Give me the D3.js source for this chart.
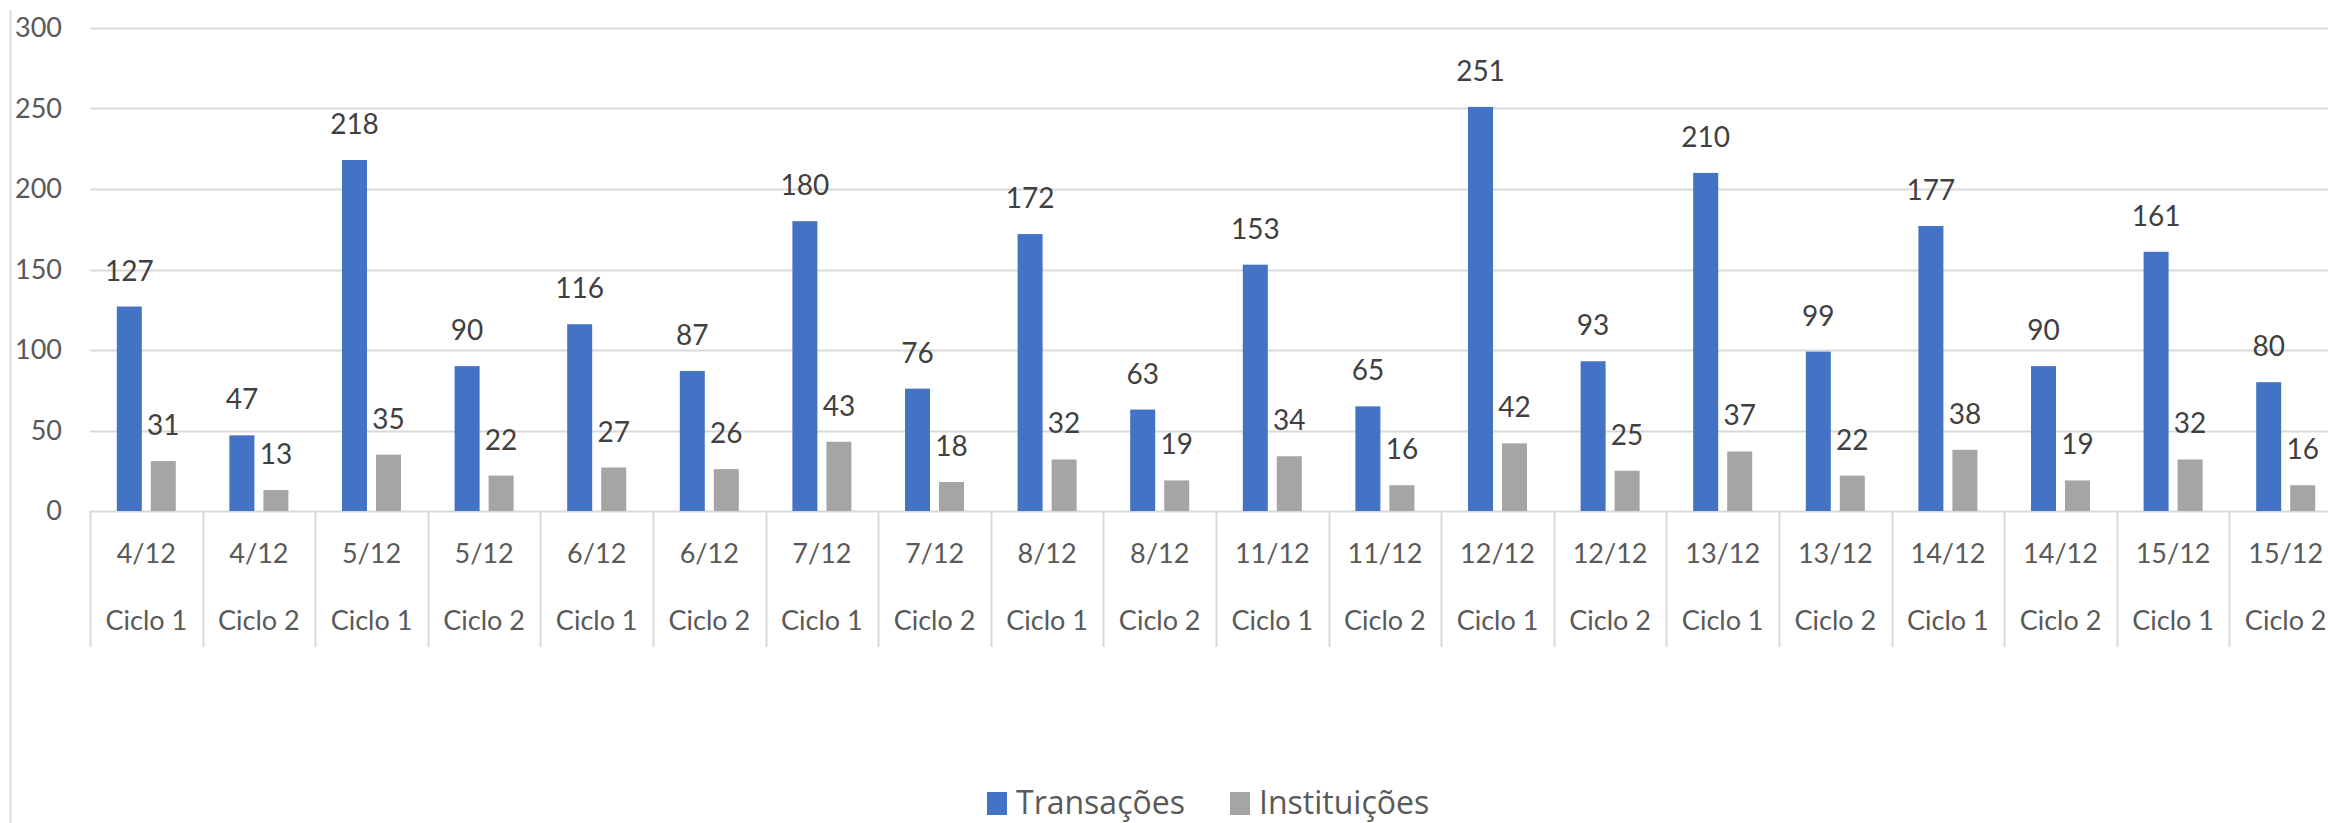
<!DOCTYPE html>
<html>
<head>
<meta charset="utf-8">
<script src="https://cdn.jsdelivr.net/npm/d3@7"></script>
<style>
  body { margin: 0; background: #fff; }
  svg { display: block; font-family: Lato, "Open Sans", sans-serif; }
</style>
</head>
<body>
<svg id="chart" width="2328" height="823"></svg>
<script>
"use strict"

const dates = ["4/12", "4/12", "5/12", "5/12", "6/12", "6/12", "7/12", "7/12", "8/12", "8/12",
    "11/12", "11/12", "12/12", "12/12", "13/12", "13/12", "14/12", "14/12", "15/12", "15/12"]
const cycles = ["Ciclo 1", "Ciclo 2", "Ciclo 1", "Ciclo 2", "Ciclo 1", "Ciclo 2", "Ciclo 1", "Ciclo 2", "Ciclo 1", "Ciclo 2",
    "Ciclo 1", "Ciclo 2", "Ciclo 1", "Ciclo 2", "Ciclo 1", "Ciclo 2", "Ciclo 1", "Ciclo 2", "Ciclo 1", "Ciclo 2"]
const transacoes = [127, 47, 218, 90, 116, 87, 180, 76, 172, 63, 153, 65, 251, 93, 210, 99, 177, 90, 161, 80]
const instituicoes = [31, 13, 35, 22, 27, 26, 43, 18, 32, 19, 34, 16, 42, 25, 37, 22, 38, 19, 32, 16]
const seriesNames = ["Transações", "Instituições"]
const yTicks = [0, 50, 100, 150, 200, 250, 300]

const colors = { "Transações": "#4472C4", "Instituições": "#A5A5A5" }
const gridColor = "#d9d9d9"
const textColor = "#595959"

const svg = d3.select("#chart")
const margin = { left: 90, top: 28, bottom: 511 }
const plotRight = 2342

const x = d3.scaleBand()
    .domain(d3.range(dates.length))
    .range([margin.left, plotRight])
    .padding(0)

const inner = d3.scaleBand()
    .domain(seriesNames)
    .range([-29.5, 29.5])
    .paddingInner(0.265)

const y = d3.scaleLinear()
    .domain([0, 300])
    .range([margin.bottom, margin.top])

// frame line on the left
svg.append("line")
    .attr("x1", 10.5).attr("x2", 10.5)
    .attr("y1", 10).attr("y2", 823)
    .style("stroke", gridColor)
    .style("stroke-width", 2)

// gridlines
svg.append("g")
    .selectAll("line")
    .data(yTicks)
    .join("line")
    .attr("x1", margin.left)
    .attr("x2", 2328)
    .attr("y1", d => Math.round(y(d)) + 0.5)
    .attr("y2", d => Math.round(y(d)) + 0.5)
    .style("stroke", gridColor)
    .style("stroke-width", 2)

// y axis labels
const yAxis = d3.axisLeft(y).tickValues(yTicks).tickSize(0).tickPadding(0)
svg.append("g")
    .attr("id", "axis-y")
    .attr("transform", "translate(62,0)")
    .call(yAxis)
    .call(g => g.select(".domain").remove())
    .selectAll("text")
    .style("font-size", "27px")
    .style("font-family", "Lato, sans-serif")
    .style("fill", textColor)

// category dividers
svg.append("g")
    .selectAll("line")
    .data(d3.range(dates.length + 1))
    .join("line")
    .attr("x1", d => Math.round(margin.left + d * x.step()) + 0.5)
    .attr("x2", d => Math.round(margin.left + d * x.step()) + 0.5)
    .attr("y1", margin.bottom)
    .attr("y2", 647)
    .style("stroke", gridColor)
    .style("stroke-width", 2)

// category labels (two levels)
const cats = svg.append("g")
    .selectAll("g")
    .data(d3.range(dates.length))
    .join("g")
    .attr("transform", i => "translate(" + (x(i) + x.bandwidth() / 2) + ",0)")

cats.append("text")
    .attr("y", 554)
    .attr("dy", "0.35em")
    .attr("text-anchor", "middle")
    .style("font-size", "27px")
    .style("fill", textColor)
    .text(i => dates[i])

cats.append("text")
    .attr("y", 621)
    .attr("dy", "0.35em")
    .attr("text-anchor", "middle")
    .style("font-size", "27px")
    .style("fill", textColor)
    .text(i => cycles[i])

// bars
const rows = d3.range(dates.length).map(i => ({
    i: i,
    values: [
        { key: "Transações", value: transacoes[i] },
        { key: "Instituições", value: instituicoes[i] }
    ]
}))

const groups = svg.append("g")
    .selectAll("g")
    .data(rows)
    .join("g")
    .attr("transform", d => "translate(" + (x(d.i) + x.bandwidth() / 2) + ",0)")

groups.selectAll("rect")
    .data(d => d.values)
    .join("rect")
    .attr("x", d => inner(d.key))
    .attr("width", inner.bandwidth())
    .attr("y", d => y(d.value))
    .attr("height", d => y(0) - y(d.value))
    .style("fill", d => colors[d.key])

groups.selectAll("text")
    .data(d => d.values)
    .join("text")
    .attr("x", d => inner(d.key) + inner.bandwidth() / 2)
    .attr("y", d => y(d.value) - 26)
    .attr("text-anchor", "middle")
    .style("font-size", "28px")
    .style("fill", "#404040")
    .text(d => d.value)

// legend
const legend = svg.append("g").attr("transform", "translate(987,803)")
const legendX = [0, 243]
seriesNames.forEach((name, k) => {
    const item = legend.append("g").attr("transform", "translate(" + legendX[k] + ",0)")
    item.append("rect")
        .attr("x", 0).attr("y", -11)
        .attr("width", 20).attr("height", 23)
        .style("fill", colors[name])
    item.append("text")
        .attr("x", 29)
        .attr("dy", "0.35em")
        .style("font-family", "'Open Sans', sans-serif")
        .style("font-size", "32px")
        .style("fill", textColor)
        .text(name)
})
</script>
</body>
</html>
